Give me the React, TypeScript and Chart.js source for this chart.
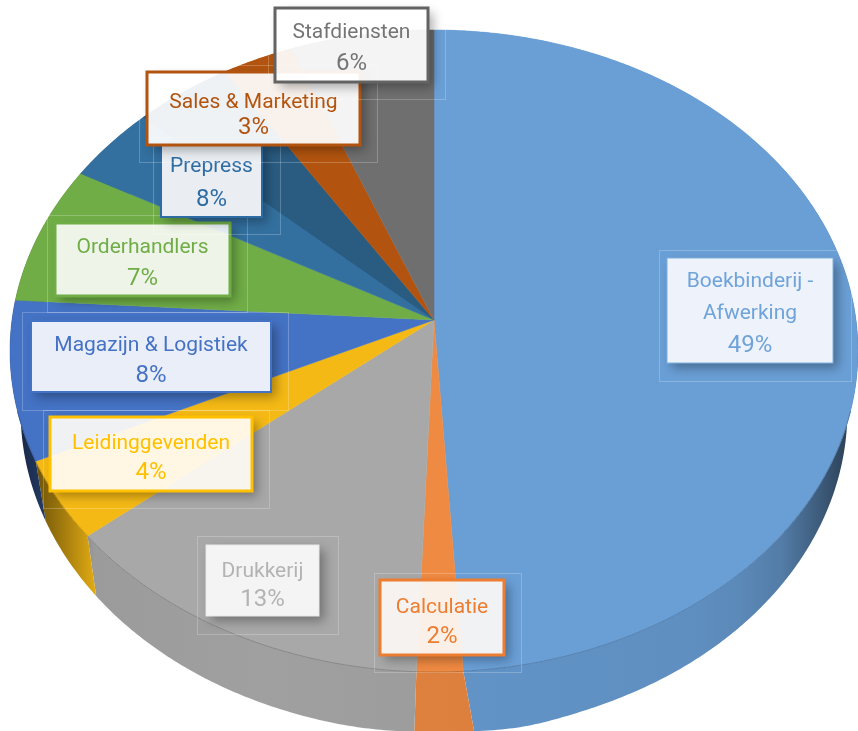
import React, { useEffect, useRef } from "react";
import { Chart, registerables } from "chart.js";

Chart.register(...registerables);

// ---- data ----
const categories = ["Boekbinderij - Afwerking", "Calculatie", "Drukkerij", "Leidinggevenden", "Magazijn & Logistiek", "Orderhandlers", "Prepress", "Sales & Marketing", "Stafdiensten"];
const values = [49, 1.6, 13.4, 4, 8, 7, 8, 3, 6];
const percentLabels = ["49%", "2%", "13%", "4%", "8%", "7%", "8%", "3%", "6%"];
const topColors = ["#6a9fd6", "#ef8a42", "#a8a8a8", "#f4b915", "#4472c4", "#70ad47", "#33709f", "#b2540f", "#6f6f6f"];
const textColors = ["#6fa3d9", "#ed7d31", "#b3b3b3", "#ffc000", "#4472c4", "#70ad47", "#2e6ca4", "#b2540f", "#757575"];
const borderColors = ["#7fb0e0", "#ed7d31", "#e8e8e8", "#ffc000", "#4472c4", "#70ad47", "#2e6ca4", "#b2540f", "#636363"];
const borderWidths = [1, 3, 1, 3, 2, 3, 2, 3, 3];
const boxFills = ["#eef3fb", "rgba(252,248,245,0.92)", "#f4f4f4", "rgba(255,252,245,0.92)", "#e9eef8", "rgba(255,255,255,0.88)", "#eaeef3", "rgba(255,255,255,0.92)", "rgba(255,255,255,0.92)"];
const darkerBandFrom = [0, 0, 0, 0, 0, 0, 0.48, 0, 0];

// ---- layout ----
const apex = { x: 434, y: 320 };
const proj = { a: 422, b: 318, k: 0.0966, depth: 60, lowerScale: 0.975, spreadRight: 0.45, spreadLeft: 0.15, spreadWidth: 80 };
// [left, top, right, bottom] of each label box and its faint outer frame
const boxes = [
  [667, 258, 833, 363], [380, 580, 504, 655], [206, 545, 319, 616], [50, 417, 252, 491],
  [31, 321, 271, 392], [55, 223, 230, 296], [161, 144, 262, 217], [147, 72, 360, 145], [275, 8, 428, 82],
];
const frames = [
  [659, 250, 851, 381], [374, 573, 521, 672], [197, 536, 338, 634], [43, 410, 269, 508],
  [22, 312, 288, 410], [47, 215, 247, 312], [153, 137, 280, 234], [139, 65, 377, 162], [268, 1, 445, 99],
];
const textLines = [[280, 312, 344], [606, 635], [570, 598], [442, 471], [344, 374], [246, 277], [165, 198], [101, 126], [31, 62]];
const wrapped: Record<number, string[]> = { 0: ["Boekbinderij -", "Afwerking"] };

const rgb = (h: string) => [1, 3, 5].map((i) => parseInt(h.slice(i, i + 2), 16));
const shade = (h: string, f: number) => {
  const [r, g, b] = rgb(h);
  return `rgb(${Math.round(r * f)},${Math.round(g * f)},${Math.round(b * f)})`;
};

const project = (theta: number) => {
  const x = Math.sin(theta);
  const y = -Math.cos(theta);
  const w = 1 - proj.k * y;
  return { x: apex.x + (proj.a * x) / w, y: apex.y + (proj.b * y) / w };
};
const lower = (p: { x: number; y: number }) => {
  const off = p.x - apex.x;
  const spread = off > 0 ? proj.spreadRight : proj.spreadLeft;
  const s = proj.lowerScale + spread * Math.exp(-Math.pow(off / proj.spreadWidth, 2));
  return { x: apex.x + off * s, y: p.y + proj.depth };
};

const pie3d = {
  id: "pie3d",
  beforeDatasetDraw(chart: any, args: any) {
    const ctx: CanvasRenderingContext2D = chart.ctx;
    const arcs = chart.getDatasetMeta(args.index).data;
    const samples = arcs.map((arc: any) => {
      const s = arc.startAngle + Math.PI / 2;
      const e = arc.endAngle + Math.PI / 2;
      const n = Math.max(2, Math.ceil(((e - s) * 180) / Math.PI) * 2);
      const pts = [];
      for (let i = 0; i <= n; i++) pts.push(project(s + ((e - s) * i) / n));
      return pts;
    });
    ctx.save();
    // side wall
    samples.forEach((pts: any[], i: number) => {
      const c = topColors[i];
      const g = ctx.createLinearGradient(10, 0, 858, 0);
      [[0, 0.3], [0.03, 0.45], [0.1, 0.92], [0.3, 0.95], [0.8, 0.9], [0.86, 0.86], [0.91, 0.78], [0.95, 0.6], [1, 0.35]].forEach(
        ([t, f]) => g.addColorStop(t, shade(c, f))
      );
      ctx.fillStyle = g;
      ctx.beginPath();
      pts.forEach((p, j) => (j ? ctx.lineTo(p.x, p.y) : ctx.moveTo(p.x, p.y)));
      for (let j = pts.length - 1; j >= 0; j--) {
        const q = lower(pts[j]);
        ctx.lineTo(q.x, q.y);
      }
      ctx.closePath();
      ctx.fill();
    });
    // top surface
    samples.forEach((pts: any[], i: number) => {
      ctx.fillStyle = topColors[i];
      ctx.strokeStyle = topColors[i];
      ctx.lineWidth = 0.5;
      ctx.beginPath();
      ctx.moveTo(apex.x, apex.y);
      pts.forEach((p) => ctx.lineTo(p.x, p.y));
      ctx.closePath();
      ctx.fill();
      ctx.stroke();
      if (darkerBandFrom[i] > 0) {
        ctx.fillStyle = shade(topColors[i], 0.82);
        ctx.beginPath();
        ctx.moveTo(apex.x, apex.y);
        pts.slice(Math.floor(pts.length * darkerBandFrom[i])).forEach((p) => ctx.lineTo(p.x, p.y));
        ctx.closePath();
        ctx.fill();
      }
      // crease along the visible front rim only
      ctx.strokeStyle = shade(topColors[i], 0.8);
      ctx.lineWidth = 1;
      ctx.beginPath();
      let started = false;
      pts.forEach((p) => {
        if (p.y < apex.y + 90) {
          started = false;
          return;
        }
        if (started) ctx.lineTo(p.x, p.y);
        else ctx.moveTo(p.x, p.y);
        started = true;
      });
      ctx.stroke();
    });
    ctx.restore();
    return false;
  },
};

const labelBoxes = {
  id: "labelBoxes",
  afterDraw(chart: any) {
    const ctx: CanvasRenderingContext2D = chart.ctx;
    ctx.save();
    categories.forEach((name, i) => {
      const [l, t, r, b] = boxes[i];
      const [fl, ft, fr, fb] = frames[i];
      ctx.strokeStyle = "rgba(255,255,255,0.22)";
      ctx.lineWidth = 1;
      ctx.strokeRect(fl + 0.5, ft + 0.5, fr - fl, fb - ft);

      // shadow only outside the box, so the translucent fill still shows the pie
      ctx.save();
      ctx.beginPath();
      ctx.rect(0, 0, 858, 731);
      ctx.rect(l, t, r - l, b - t);
      ctx.clip("evenodd");
      ctx.shadowColor = "rgba(0,0,0,0.32)";
      ctx.shadowBlur = 10;
      ctx.shadowOffsetX = 5;
      ctx.shadowOffsetY = 5;
      ctx.fillStyle = "#ffffff";
      ctx.fillRect(l, t, r - l, b - t);
      ctx.restore();

      ctx.fillStyle = boxFills[i];
      ctx.fillRect(l, t, r - l, b - t);
      ctx.strokeStyle = borderColors[i];
      ctx.lineWidth = borderWidths[i];
      ctx.strokeRect(l, t, r - l, b - t);

      const lines = wrapped[i] || [name];
      const ys = textLines[i];
      const cx = (l + r) / 2;
      ctx.fillStyle = textColors[i];
      ctx.textAlign = "center";
      ctx.textBaseline = "middle";
      ctx.font = "400 21px Roboto, sans-serif";
      lines.forEach((s, j) => ctx.fillText(s, cx, ys[j] + 2));
      ctx.font = "400 24px Roboto, sans-serif";
      ctx.fillText(percentLabels[i], cx, ys[ys.length - 1] + 2);
    });
    ctx.restore();
  },
};

export default function App() {
  const ref = useRef<HTMLCanvasElement>(null);
  useEffect(() => {
    const chart = new Chart(ref.current as HTMLCanvasElement, {
      type: "pie",
      data: {
        labels: categories,
        datasets: [{ data: values, backgroundColor: topColors, borderWidth: 0 }],
      },
      options: {
        animation: false,
        responsive: false,
        plugins: { legend: { display: false }, tooltip: { enabled: false } },
      },
      plugins: [pie3d, labelBoxes],
    } as any);
    return () => chart.destroy();
  }, []);
  return (
    <div style={{ position: "absolute", left: 0, top: 0, width: 858, height: 731, background: "#fff", overflow: "hidden" }}>
      <canvas ref={ref} width={858} height={731} style={{ display: "block" }} />
    </div>
  );
}
